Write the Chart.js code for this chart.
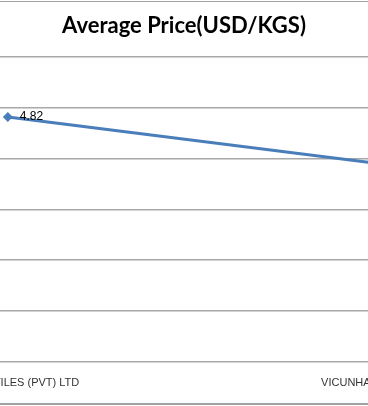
<!DOCTYPE html>
<html>
<head>
<meta charset="utf-8">
<script src="https://cdn.jsdelivr.net/npm/chart.js@4/dist/chart.umd.min.js"></script>
<style>
  html, body { margin: 0; padding: 0; background: #fff; }
  #wrap { position: relative; width: 368px; height: 406px; overflow: hidden; }
  #frame { position: absolute; left: -5px; right: -5px; top: 1px; height: 401px;
           border-top: 1px solid #a0a0a0; border-bottom: 2px solid #a0a0a0; }
  #box { position: absolute; left: -300px; top: 0; width: 968px; height: 406px; }
</style>
</head>
<body>
<div id="wrap">
  <div id="frame"></div>
  <div id="box"><canvas id="priceChart"></canvas></div>
</div>
<script>
// data
var suppliers = ["ASIAN TEXTILES (PVT) LTD", "VICUNHA TEXTIL S.A."];
var avgPrice = [4.82, 3.90];
var priceTicks = [0, 1, 2, 3, 4, 5, 6];

var lineBlue = "#4a7ebb";

// Excel-style value labels next to each marker
var valueLabels = {
    id: "valueLabels",
    afterDatasetsDraw: function (chart) {
        var ctx = chart.ctx;
        var meta = chart.getDatasetMeta(0);
        ctx.save();
        ctx.font = "12px 'Liberation Sans', Arial, sans-serif";
        ctx.fillStyle = "#000";
        ctx.textAlign = "left";
        ctx.textBaseline = "middle";
        meta.data.forEach(function (pt, i) {
            ctx.fillText(avgPrice[i].toFixed(2), pt.x + 12, pt.y);
        });
        ctx.restore();
    }
};

var ctx = document.getElementById("priceChart").getContext("2d");
var priceChart = new Chart(ctx, {
    type: "line",
    data: {
        datasets: [{
            label: "Average Price",
            data: avgPrice.map(function (v, i) { return { x: i, y: v }; }),
            borderColor: lineBlue,
            backgroundColor: lineBlue,
            borderWidth: 3,
            pointStyle: "rectRot",
            pointRadius: 5,
            pointBorderWidth: 0,
            tension: 0
        }]
    },
    options: {
        responsive: true,
        maintainAspectRatio: false,
        animation: false,
        events: [],
        layout: { padding: { top: 0, bottom: 2.4, left: 0, right: 0 } },
        plugins: {
            legend: { display: false },
            tooltip: { enabled: false },
            title: {
                display: true,
                text: "Average Price(USD/KGS)",
                color: "#000",
                font: { family: "Lato", size: 22, weight: "bold", lineHeight: 1.2 },
                padding: { top: 12.8, bottom: 17.8 }
            }
        },
        scales: {
            x: {
                type: "linear",
                min: -0.8182,
                max: 1.7701,
                grid: { display: false, drawTicks: false },
                border: { display: false },
                afterBuildTicks: function (axis) {
                    axis.ticks = suppliers.map(function (s, i) { return { value: i }; });
                },
                ticks: {
                    autoSkip: false,
                    maxRotation: 0,
                    padding: 14.4,
                    color: "#333333",
                    font: { family: "'Liberation Sans', Arial", size: 11, lineHeight: 1.2 },
                    callback: function (v) { return suppliers[v]; }
                }
            },
            y: {
                min: priceTicks[0],
                max: priceTicks[priceTicks.length - 1],
                ticks: { display: false, stepSize: 1 },
                border: { display: false },
                grid: { color: "#a8a8a8", lineWidth: 1.5, drawTicks: false }
            }
        }
    },
    plugins: [valueLabels]
});
</script>
</body>
</html>
